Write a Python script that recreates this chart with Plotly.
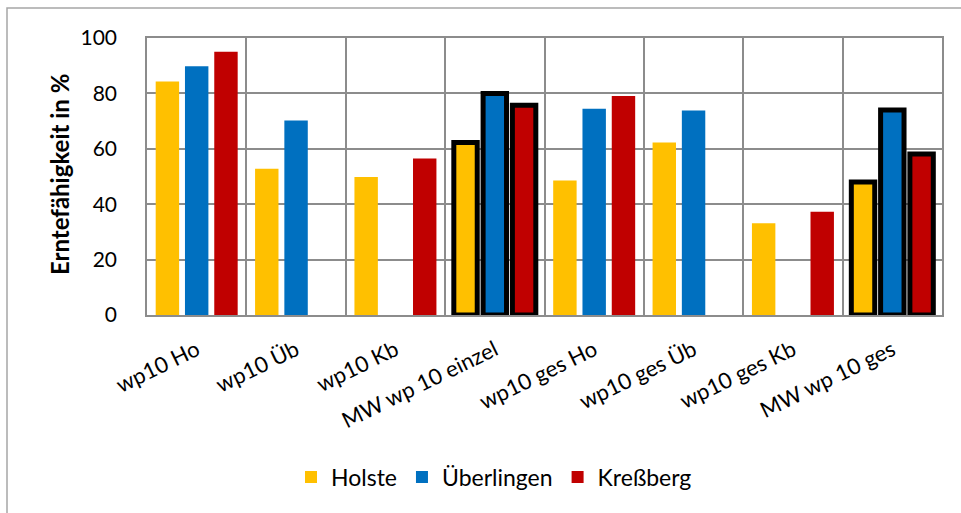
import plotly.graph_objects as go

# Categories on the x axis
categories = [
    "wp10 Ho", "wp10 Üb", "wp10 Kb", "MW wp 10 einzel",
    "wp10 ges Ho", "wp10 ges Üb", "wp10 ges Kb", "MW wp 10 ges",
]

# Harvestability (%) per site
holste = [84.3, 52.8, 49.8, 62.3, 48.6, 62.3, 33.1, 48.0]
ueberlingen = [89.8, 70.2, None, 80.0, 74.5, 73.8, None, 74.0]
kressberg = [95.0, None, 56.5, 75.7, 79.1, None, 37.3, 58.1]

# Categories that are mean values get a heavy black outline
is_mean = [c.startswith("MW") for c in categories]

series = [
    ("Holste", holste, "#FFC000"),
    ("Überlingen", ueberlingen, "#0070C0"),
    ("Kreßberg", kressberg, "#C00000"),
]

FONT = "Lato"
GRID = "#8c8c8c"

fig = go.Figure()
for name, vals, color in series:
    fig.add_trace(go.Bar(
        name=name,
        x=categories,
        y=vals,
        marker=dict(
            color=color,
            line=dict(
                color=["#000000" if m else color for m in is_mean],
                width=[5 if m else 0 for m in is_mean],
            ),
        ),
    ))

# plot area in pixels
W, H = 961, 513
L, R, T, B = 147, 19, 38, 198
pw, ph = W - L - R, H - T - B


def px_x(px):
    return (px - L) / pw


def px_y(py):
    return (H - B - py) / ph


fig.update_layout(
    width=W, height=H,
    margin=dict(l=L, r=R, t=T, b=B, pad=0),
    paper_bgcolor="white",
    plot_bgcolor="white",
    barmode="group",
    bargap=0.116,
    bargroupgap=0.2,
    font=dict(family=FONT, size=21, color="#000000"),
    showlegend=True,
    legend=dict(
        orientation="h",
        x=px_x(494), xanchor="center",
        y=px_y(477), yanchor="middle",
        font=dict(family=FONT, size=23, color="#000000"),
        itemwidth=30,
    ),
    xaxis=dict(
        type="category",
        tickson="boundaries",
        showgrid=True, gridcolor=GRID, gridwidth=1.5,
        showline=True, linecolor=GRID, linewidth=1.5, mirror=True,
        ticks="", tickangle=-26, ticklabelstandoff=12,
        tickfont=dict(family=FONT, size=22),
    ),
    yaxis=dict(
        range=[0, 100],
        tickvals=[0, 20, 40, 60, 80, 100],
        showgrid=True, gridcolor=GRID, gridwidth=1.5,
        showline=True, linecolor=GRID, linewidth=1.5, mirror=True,
        ticks="", ticklabelstandoff=24,
        tickfont=dict(family=FONT, size=21),
        zeroline=False,
    ),
    shapes=[
        # chart area frame
        dict(type="rect", xref="paper", yref="paper",
             x0=px_x(7), x1=px_x(980), y0=px_y(540), y1=px_y(8),
             line=dict(color="#a6a6a6", width=1.5), layer="below"),
    ],
    annotations=[
        dict(text="<b>Erntefähigkeit in %</b>", textangle=-90,
             xref="paper", yref="paper", x=px_x(59), y=px_y(175),
             xanchor="center", yanchor="middle", showarrow=False,
             font=dict(family=FONT, size=24, color="#000000")),
    ],
)

fig.write_html("out.html")
